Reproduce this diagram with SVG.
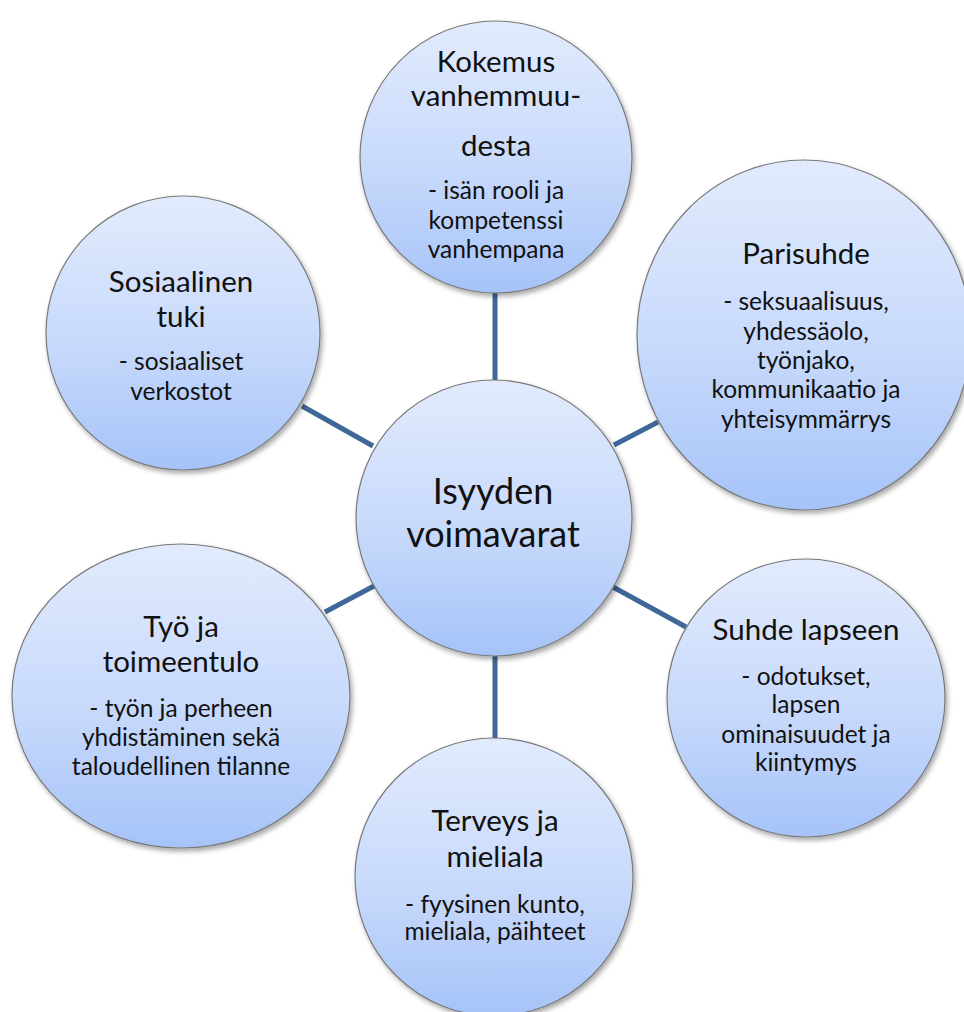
<svg xmlns="http://www.w3.org/2000/svg" width="964" height="1012" viewBox="0 0 964 1012">
<defs>
<linearGradient id="g" x1="0" y1="0" x2="0" y2="1">
<stop offset="0" stop-color="#e2ebfd"/>
<stop offset="0.55" stop-color="#c7d9fb"/>
<stop offset="1" stop-color="#a6c3f8"/>
</linearGradient>
<filter id="sh" x="-10%" y="-10%" width="125%" height="125%">
<feDropShadow dx="2" dy="3" stdDeviation="2.5" flood-color="#000" flood-opacity="0.35"/>
</filter>
</defs>
<style>
.n{fill:url(#g);stroke:#7a7a7a;stroke-width:1.2;filter:url(#sh)}
.c{stroke:#3f6797;stroke-width:5;fill:none}
text{font-family:Lato,"Liberation Sans",sans-serif;fill:#111;text-anchor:middle}
.t{font-size:29.5px}
.s{font-size:24.5px}
.m{font-size:36px}
</style>
<rect width="964" height="1012" fill="#fff"/>
<g id="connectors">
<line class="c" x1="495" y1="292" x2="495" y2="382"/>
<line class="c" x1="495" y1="654" x2="495" y2="739"/>
<line class="c" x1="302" y1="406" x2="373" y2="446"/>
<line class="c" x1="325" y1="612" x2="374" y2="586"/>
<line class="c" x1="614" y1="445" x2="658" y2="422"/>
<line class="c" x1="613" y1="587" x2="686" y2="627"/>
</g>
<g id="node-kokemus">
<circle class="n" cx="496" cy="157" r="136"/>
<text class="t" x="496" y="72">Kokemus</text>
<text class="t" x="496" y="106">vanhemmuu-</text>
<text class="t" x="496" y="156">desta</text>
<text class="s" x="496" y="199">- isän rooli ja</text>
<text class="s" x="496" y="229">kompetenssi</text>
<text class="s" x="496" y="258">vanhempana</text>
</g>
<g id="node-parisuhde">
<ellipse class="n" cx="804" cy="335" rx="167" ry="175"/>
<text class="t" x="806" y="264">Parisuhde</text>
<text class="s" x="806" y="310">- seksuaalisuus,</text>
<text class="s" x="806" y="340">yhdessäolo,</text>
<text class="s" x="806" y="369">työnjako,</text>
<text class="s" x="806" y="398">kommunikaatio ja</text>
<text class="s" x="806" y="428">yhteisymmärrys</text>
</g>
<g id="node-sosiaalinen">
<circle class="n" cx="183" cy="333" r="137"/>
<text class="t" x="181" y="292">Sosiaalinen</text>
<text class="t" x="181" y="327">tuki</text>
<text class="s" x="181" y="370">- sosiaaliset</text>
<text class="s" x="181" y="400">verkostot</text>
</g>
<g id="node-center">
<circle class="n" cx="494" cy="518" r="138"/>
<text class="m" x="493" y="504">Isyyden</text>
<text class="m" x="493" y="547">voimavarat</text>
</g>
<g id="node-tyo">
<ellipse class="n" cx="181" cy="696" rx="169" ry="152"/>
<text class="t" x="181" y="637">Työ ja</text>
<text class="t" x="181" y="672">toimeentulo</text>
<text class="s" x="181" y="717">- työn ja perheen</text>
<text class="s" x="181" y="746">yhdistäminen sekä</text>
<text class="s" x="181" y="775">taloudellinen tilanne</text>
</g>
<g id="node-suhde">
<circle class="n" cx="806" cy="698" r="139"/>
<text class="t" x="806" y="640">Suhde lapseen</text>
<text class="s" x="806" y="685">- odotukset,</text>
<text class="s" x="806" y="713">lapsen</text>
<text class="s" x="806" y="743">ominaisuudet ja</text>
<text class="s" x="806" y="771">kiintymys</text>
</g>
<g id="node-terveys">
<circle class="n" cx="494" cy="877" r="139"/>
<text class="t" x="495" y="831">Terveys ja</text>
<text class="t" x="495" y="867">mieliala</text>
<text class="s" x="495" y="913">- fyysinen kunto,</text>
<text class="s" x="495" y="940">mieliala, päihteet</text>
</g>
</svg>
